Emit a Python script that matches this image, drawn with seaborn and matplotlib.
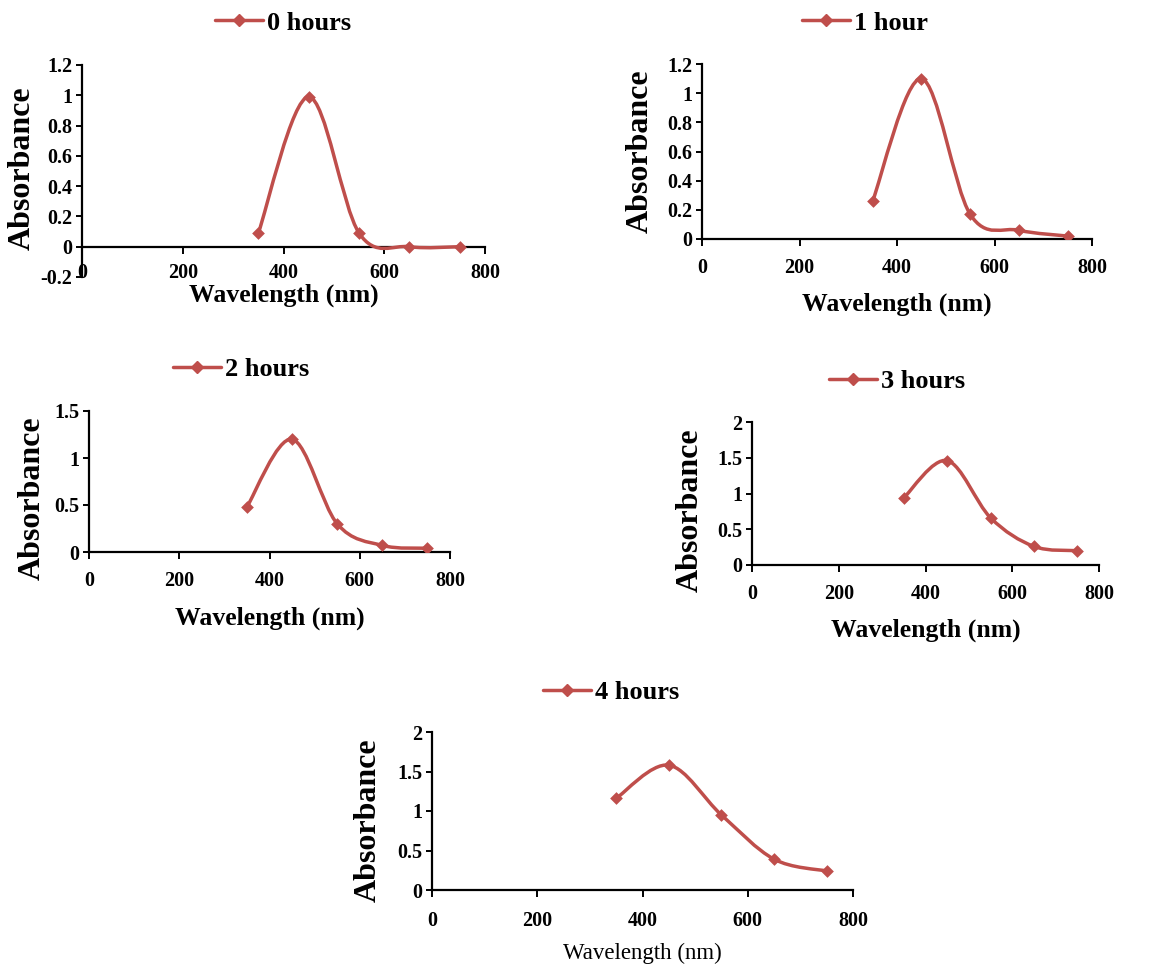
import numpy as np
import matplotlib
matplotlib.use("Agg")
import matplotlib.pyplot as plt
import seaborn as sns
import pandas as pd
from matplotlib.path import Path
from matplotlib.patches import PathPatch
from matplotlib.lines import Line2D
from matplotlib.ticker import FuncFormatter, MultipleLocator

# ---------------- data ----------------
wavelength = [350, 450, 550, 650, 750]
labels = ["0 hours", "1 hour", "2 hours", "3 hours", "4 hours"]
abs_0h = [0.09, 0.99, 0.09, 0.00, 0.00]
abs_1h = [0.26, 1.10, 0.17, 0.06, 0.02]
abs_2h = [0.48, 1.20, 0.30, 0.07, 0.04]
abs_3h = [0.94, 1.46, 0.66, 0.26, 0.20]
abs_4h = [1.16, 1.58, 0.95, 0.39, 0.24]
series = [abs_0h, abs_1h, abs_2h, abs_3h, abs_4h]
y_limits = [(-0.2, 1.2), (0, 1.2), (0, 1.5), (0, 2), (0, 2)]
y_steps = [0.2, 0.2, 0.5, 0.5, 0.5]
x_ticks = [0, 200, 400, 600, 800]

# ---------------- style ----------------
sns.set_style("ticks")
plt.rcParams['font.family'] = ['Liberation Serif', 'DejaVu Serif']
plt.rcParams['text.color'] = 'black'
plt.rcParams['axes.labelcolor'] = 'black'
plt.rcParams['xtick.color'] = 'black'
plt.rcParams['ytick.color'] = 'black'
COLOR = "#BF4E4B"

W, H = 1176, 967
fig = plt.figure(figsize=(W / 100, H / 100), dpi=100)

# axes boxes in pixels: left, right, top, bottom
boxes = [(82, 485, 65, 277), (702, 1092, 64, 239), (89, 450, 411, 552),
         (752, 1099, 422, 565), (432, 853, 732, 890)]
legend_pos = [(283, 23), (865, 23), (241, 369), (897, 381), (611, 692)]
xlabel_y = [-0.085, -0.371, -0.468, -0.455, -0.40]
ylabel_xy = [(-0.149, 0.514), (-0.159, 0.503), (-0.158, 0.383),
             (-0.179, 0.385), (-0.152, 0.443)]
xpads = [6.5, 9, 9, 9, 10]


def smooth_path(xs, ys):
    pts = np.column_stack([xs, ys]).astype(float)
    n = len(pts)
    verts = [pts[0]]
    codes = [Path.MOVETO]
    for i in range(n - 1):
        p0 = pts[i - 1] if i > 0 else pts[i]
        p1 = pts[i]
        p2 = pts[i + 1]
        p3 = pts[i + 2] if i + 2 < n else pts[i + 1]
        c1 = p1 + (p2 - p0) / 6.0
        c2 = p2 - (p3 - p1) / 6.0
        verts += [c1, c2, p2]
        codes += [Path.CURVE4] * 3
    return Path(verts, codes)


fmt = FuncFormatter(lambda v, p: ("%g" % round(v, 3)))

for i, (l, r, t, b) in enumerate(boxes):
    ax = fig.add_axes([l / W, 1 - b / H, (r - l) / W, (b - t) / H])
    df = pd.DataFrame({"Wavelength": wavelength, "Absorbance": series[i]})
    patch = PathPatch(smooth_path(df["Wavelength"], df["Absorbance"]),
                      facecolor="none", edgecolor=COLOR, lw=2.5, zorder=3)
    ax.add_patch(patch)
    sns.scatterplot(data=df, x="Wavelength", y="Absorbance", ax=ax,
                    marker="D", s=42, color=COLOR, edgecolor=COLOR,
                    linewidth=0, zorder=4, legend=False)
    ax.set_xlim(0, 800)
    ax.set_ylim(*y_limits[i])
    ax.set_xticks(x_ticks)
    ax.yaxis.set_major_locator(MultipleLocator(y_steps[i]))
    ax.yaxis.set_major_formatter(fmt)
    for s in ["top", "right"]:
        ax.spines[s].set_visible(False)
    for s in ["left", "bottom"]:
        ax.spines[s].set_linewidth(1.6)
        ax.spines[s].set_color("black")
    ax.spines["bottom"].set_position(("data", 0))
    ax.tick_params(axis="y", direction="out", length=4, width=1.4,
                   labelsize=14.5, pad=3, colors="black")
    ax.tick_params(axis="x", direction="out", length=5, width=1.4,
                   labelsize=14.5, pad=xpads[i], colors="black")
    for lab in ax.get_xticklabels() + ax.get_yticklabels():
        lab.set_fontweight("bold")
    if i == 4:
        ax.set_xlabel("Wavelength (nm)", fontsize=16.5, fontweight="normal",
                      va="center")
    else:
        ax.set_xlabel("Wavelength (nm)", fontsize=18.5, fontweight="bold",
                      va="center")
    ax.xaxis.set_label_coords(0.5, xlabel_y[i])
    ax.set_ylabel("Absorbance", fontsize=23, fontweight="bold", va="center")
    ax.yaxis.set_label_coords(*ylabel_xy[i])
    ax.grid(False)

    handle = Line2D([], [], color=COLOR, lw=2.5, marker="D", markersize=6.5,
                    markerfacecolor=COLOR, markeredgecolor=COLOR)
    lx, ly = legend_pos[i]
    ax.legend(handles=[handle], labels=[labels[i]], loc="center",
              bbox_to_anchor=(lx / W, 1 - ly / H),
              bbox_transform=fig.transFigure, frameon=False,
              prop={"size": 19, "weight": "bold"}, handlelength=1.8,
              handletextpad=0.15, borderpad=0, borderaxespad=0)

fig.savefig("out.png", dpi=100, facecolor="white")
